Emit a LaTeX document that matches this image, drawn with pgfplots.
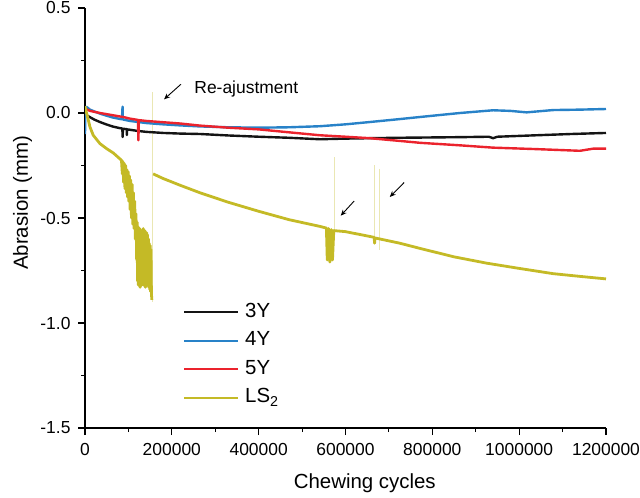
\documentclass[border=0pt]{standalone}
\usepackage{fontspec}
\setmainfont{Liberation Sans}
\usepackage{pgfplots}
\pgfplotsset{compat=1.18}
\usetikzlibrary{arrows.meta}
\definecolor{c3y}{RGB}{20,20,20}
\definecolor{c4y}{RGB}{40,130,200}
\definecolor{c5y}{RGB}{235,35,45}
\definecolor{cls}{RGB}{196,186,38}
\begin{document}
\begin{tikzpicture}
\useasboundingbox (0,0) rectangle (640bp,498bp);
\begin{axis}[
  at={(85bp,70bp)}, anchor=south west,
  scale only axis, width=521bp, height=420bp,
  xmin=0, xmax=1200000, ymin=-1.5, ymax=0.5,
  axis x line=bottom, axis y line=left,
  axis line style={line width=1.1bp, -},
  tick align=outside,
  major tick length=7bp, minor tick length=4bp,
  tick style={line width=1.1bp, black},
  xtick={0,200000,400000,600000,800000,1000000,1200000},
  ytick={-1.5,-1,-0.5,0,0.5},
  minor x tick num=1, minor y tick num=1,
  scaled x ticks=false, scaled y ticks=false,
  /pgf/number format/assume math mode=true,
  tick label style={font=\fontsize{17.5}{20}\selectfont},
  x tick label style={yshift=-5bp, /pgf/number format/.cd, fixed, 1000 sep={}},
  y tick label style={xshift=-4bp, /pgf/number format/.cd, fixed, fixed zerofill, precision=1},
  xlabel={Chewing cycles},
  ylabel={Abrasion (mm)},
  xlabel style={font=\fontsize{20.5}{24}\selectfont, at={(axis description cs:0.537,-0.131)}, anchor=center},
  ylabel style={font=\fontsize{20.5}{24}\selectfont, at={(axis description cs:-0.12,0.536)}, anchor=center},
  legend style={draw=none, fill=none, at={(axis description cs:0.188,0.297)}, anchor=north west,
    font=\fontsize{20.5}{24}\selectfont, inner sep=0pt, row sep=10.5bp,
    nodes={inner sep=0pt, text height=14bp, text depth=4bp},
    /tikz/every odd column/.append style={column sep=6bp}},
  legend image code/.code={\draw[#1,line width=2bp] (0bp,0bp) -- (54bp,0bp);},
  legend cell align=left,
  every axis plot/.append style={line join=round},
]
% faint vertical spikes
\addplot[forget plot, cls!35, line width=0.8bp] coordinates {(156000,0.1) (156000,-0.9)};
\addplot[forget plot, cls!35, line width=0.8bp] coordinates {(575000,-0.21) (575000,-0.57)};
\addplot[forget plot, cls!35, line width=0.8bp] coordinates {(666000,-0.25) (666000,-0.61)};
\addplot[forget plot, cls!35, line width=0.8bp] coordinates {(678000,-0.265) (678000,-0.654)};

\addplot[c3y, line width=2.4bp] coordinates {
(0,-0.003) (5000,-0.012) (11500,-0.02) (22000,-0.032) (34500,-0.043) (50000,-0.055) (65000,-0.065) (80000,-0.072) (86000,-0.074) (86700,-0.114) (87400,-0.075) (96000,-0.077) (96500,-0.105) (97000,-0.078) (104000,-0.08) (120000,-0.085) (142000,-0.09) (180000,-0.095) (219000,-0.098) (265000,-0.1) (330000,-0.107) (400000,-0.113) (470000,-0.118) (541000,-0.125) (600000,-0.122) (656000,-0.12) (720000,-0.118) (772000,-0.117) (864000,-0.115) (930000,-0.113) (940000,-0.12) (950000,-0.113) (1040000,-0.106) (1120000,-0.1) (1200000,-0.095)
};
\addlegendentry{3Y}
\addplot[c4y, line width=2.4bp] coordinates {
(0,-0.1) (1000,0.025) (3000,0.03) (11500,0.016) (22000,0.007) (34500,-0.003) (50000,-0.013) (65000,-0.022) (85000,-0.03) (86500,0.03) (87000,-0.02) (87500,-0.031) (104000,-0.038) (142000,-0.048) (180000,-0.054) (219000,-0.059) (265000,-0.064) (330000,-0.068) (400000,-0.07) (470000,-0.068) (541000,-0.063) (600000,-0.054) (656000,-0.043) (720000,-0.03) (772000,-0.019) (820000,-0.009) (864000,0.0) (940000,0.013) (980000,0.01) (1017000,0.003) (1078000,0.014) (1140000,0.016) (1200000,0.019)
};
\addlegendentry{4Y}
\addplot[c5y, line width=2.4bp] coordinates {
(0,0.021) (11500,0.01) (34500,0.0) (65000,-0.011) (90000,-0.02) (104000,-0.027) (122000,-0.033) (123000,-0.13) (124000,-0.034) (142000,-0.038) (219000,-0.05) (265000,-0.06) (330000,-0.07) (400000,-0.078) (470000,-0.092) (541000,-0.106) (600000,-0.113) (656000,-0.12) (720000,-0.132) (772000,-0.142) (864000,-0.154) (940000,-0.165) (1040000,-0.172) (1140000,-0.18) (1170000,-0.17) (1200000,-0.17)
};
\addlegendentry{5Y}
\addplot[cls, line width=2.8bp, unbounded coords=jump] coordinates {
(0,0.032) (4000,-0.003) (11500,-0.067) (19000,-0.106) (34500,-0.146) (50000,-0.17) (65000,-0.19) (84000,-0.225)
(86000,-0.29) (87000,-0.23) (89000,-0.33) (90500,-0.24) (92000,-0.36) (93500,-0.25) (95000,-0.38) (96500,-0.27) (98000,-0.40) (99500,-0.28) (101000,-0.42) (102500,-0.30) (104000,-0.46) (105500,-0.32) (107000,-0.50) (108500,-0.34) (110000,-0.53) (111500,-0.38) (113000,-0.55) (114500,-0.42) (116000,-0.60) (117500,-0.48) (119000,-0.70) (120000,-0.52) (121000,-0.80) (122000,-0.54) (123000,-0.82) (124000,-0.56) (125000,-0.81) (126000,-0.55) (127000,-0.83) (128000,-0.58) (129000,-0.80) (130000,-0.56) (131000,-0.82) (132000,-0.57) (133000,-0.78) (134000,-0.55) (135000,-0.82) (136000,-0.58) (137000,-0.80) (138000,-0.56) (139000,-0.83) (140000,-0.58) (141000,-0.79) (142000,-0.57) (143000,-0.82) (144000,-0.58) (145000,-0.80) (146000,-0.60) (147000,-0.83) (148000,-0.62) (149000,-0.84) (150000,-0.63) (151000,-0.85) (152000,-0.65) (153000,-0.86) (154000,-0.89)
(155500,nan)
(157000,-0.29) (180000,-0.312) (219000,-0.344) (265000,-0.38) (330000,-0.425) (400000,-0.468) (470000,-0.508) (541000,-0.54) (556000,-0.548) (558000,-0.70) (561000,-0.55) (564000,-0.71) (567000,-0.555) (570000,-0.70) (573000,-0.56) (600000,-0.565) (666000,-0.592) (667000,-0.62) (668000,-0.595) (725000,-0.62) (772000,-0.645) (850000,-0.685) (925000,-0.715) (1000000,-0.74) (1078000,-0.765) (1140000,-0.778) (1200000,-0.79)
};
\addlegendentry{LS\textsubscript{2}}

\node[anchor=base west, font=\fontsize{17.5}{20}\selectfont] at (axis cs:244000,0.094) {Re-ajustment};
\draw[-{Stealth[length=6bp,width=5bp]}, line width=0.9bp] (axis cs:221000,0.137) -- (axis cs:182000,0.065);
\draw[-{Stealth[length=6bp,width=5bp]}, line width=0.9bp] (axis cs:620000,-0.419) -- (axis cs:589000,-0.489);
\draw[-{Stealth[length=6bp,width=5bp]}, line width=0.9bp] (axis cs:735000,-0.331) -- (axis cs:702000,-0.40);
\end{axis}
\end{tikzpicture}
\end{document}
